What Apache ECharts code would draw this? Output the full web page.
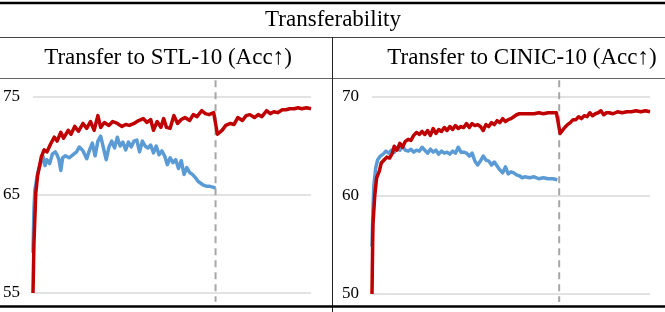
<!DOCTYPE html>
<html>
<head>
<meta charset="utf-8">
<script src="https://cdn.jsdelivr.net/npm/echarts@6/dist/echarts.min.js"></script>
<style>html,body{margin:0;padding:0;background:#fff;}#c{width:665px;height:312px;}</style>
</head>
<body>
<div id="c"></div>
<script>
// ---- Data ----
const mainTitle = 'Transferability';
const panelTitles = ['Transfer to STL-10 (Acc\u2191)', 'Transfer to CINIC-10 (Acc\u2191)'];
const leftTicks = [55, 65, 75];
const rightTicks = [50, 60, 70];
const switchEpochLeft = 197;
const switchEpochRight = 202;

// Left panel (STL-10), red series
const stlRedEpoch = [0,1,3,5,9,12,15,19,23,26,30,33,38,41,45,49,54,58,62,66,70,73,77,82,86,91,96,100,104,109,114,119,123,127,130,134,138,141,144,148,152,156,160,164,169,173,177,182,186,190,195,197,199,201,204,208,213,217,221,226,230,234,239,243,247,252,256,260,264,269,273,277,282,286,290,295,300];
const stlRedAcc = [55.0,60.0,65.2,67.0,68.9,69.6,69.4,70.2,70.9,70.5,71.4,70.8,71.6,71.2,72.0,71.5,72.3,71.8,72.5,71.6,73.1,71.9,72.4,72.1,72.5,72.3,72.0,72.2,72.1,72.3,72.6,72.8,72.4,72.7,71.6,72.5,71.9,72.8,71.9,71.8,73.1,72.3,72.7,72.9,72.6,73.2,73.0,73.6,73.3,73.2,73.4,73.2,71.2,71.1,71.6,72.1,72.3,72.2,72.9,72.6,73.1,73.2,72.9,73.2,73.0,73.6,73.3,73.5,73.4,73.7,73.7,73.8,73.8,73.9,73.8,73.9,73.8];
// Left panel (STL-10), blue series
const stlBlueEpoch = [0,1,2,5,9,11,13,15,18,21,24,26,28,30,32,35,39,43,47,50,54,58,61,64,67,70,73,76,79,82,85,88,91,94,97,100,103,106,109,112,115,118,121,124,127,130,133,136,139,142,145,148,151,154,157,160,163,166,169,172,175,178,181,184,187,190,194,197];
const stlBlueAcc = [59.1,63.5,65.5,67.2,68.5,68.9,68.0,68.6,68.2,69.2,69.4,69.1,68.6,67.5,68.8,69.0,68.8,69.1,69.4,69.9,69.5,68.7,69.6,70.3,69.0,70.5,71.0,69.8,68.6,69.9,70.5,69.8,70.9,70.0,70.4,69.6,70.4,69.9,70.5,70.6,69.4,70.5,70.0,69.8,70.1,69.3,70.0,69.1,69.5,69.0,68.1,68.8,68.3,68.6,67.7,68.5,67.1,67.8,67.3,67.1,66.8,66.4,66.2,66.0,65.9,65.9,65.8,65.7];

// Right panel (CINIC-10), red series
const cinicRedEpoch = [0,1,3,5,8,10,13,16,19,22,24,27,30,33,36,39,42,45,48,51,54,57,60,63,66,69,72,75,78,81,84,87,90,93,96,99,102,105,108,111,114,117,120,123,126,129,132,135,138,141,144,147,150,153,156,159,162,165,170,175,180,185,190,195,199,201,203,205,208,211,214,217,220,223,226,229,232,235,238,241,244,247,250,253,256,260,265,270,275,280,285,290,295,300];
const cinicRedAcc = [50.0,57.0,60.0,61.8,62.5,63.3,63.6,63.9,63.8,64.3,65.0,64.6,65.3,64.9,65.5,65.7,65.6,66.1,66.4,66.2,66.5,66.2,66.6,66.1,66.8,66.3,66.7,66.5,66.9,66.6,67.0,66.7,67.1,66.8,67.0,66.9,67.3,66.9,67.3,67.1,67.2,67.0,66.6,67.2,67.0,67.4,67.2,67.6,67.4,67.8,67.5,67.7,67.8,68.0,68.2,68.3,68.3,68.3,68.3,68.3,68.4,68.3,68.4,68.4,68.4,68.5,66.3,66.5,66.9,67.2,67.4,67.7,67.7,68.0,67.8,68.1,68.0,68.4,68.1,68.3,68.4,68.6,68.2,68.4,68.4,68.3,68.5,68.4,68.5,68.5,68.6,68.5,68.6,68.5];
// Right panel (CINIC-10), blue series
const cinicBlueEpoch = [0,1,2,4,6,9,12,15,18,21,24,27,30,33,36,39,42,45,48,51,54,57,60,63,66,69,72,75,78,81,84,87,90,93,96,99,102,105,108,111,114,117,120,123,126,129,132,135,138,141,144,147,150,153,156,159,162,165,170,175,180,185,190,195,200];
const cinicBlueAcc = [54.8,58.5,61.0,62.8,63.6,64.0,64.2,64.5,64.3,64.6,64.4,64.8,64.6,65.0,64.6,64.5,64.7,64.4,64.6,64.5,64.9,64.6,64.3,64.7,64.4,64.6,64.2,64.5,64.3,64.4,64.2,64.5,64.3,64.9,64.4,64.4,64.3,64.0,64.3,63.5,63.1,63.5,64.0,63.6,63.5,63.1,63.4,63.0,62.6,62.3,62.9,62.2,62.4,62.3,62.1,62.0,61.8,61.9,61.8,61.9,61.7,61.8,61.7,61.7,61.6];

// ---- Chart ----
const zip = (xs, ys) => xs.map((x, i) => [x, ys[i]]);
const RED = '#C00000', BLUE = '#5B9BD5', DASH = '#A6A6A6';
const FONT = '"Liberation Serif", "Times New Roman", serif';

function yAxis(idx, ticks) {
  return {
    gridIndex: idx, type: 'value',
    min: ticks[0], max: ticks[ticks.length - 1], interval: ticks[1] - ticks[0],
    axisLine: { show: false }, axisTick: { show: false },
    axisLabel: { fontSize: 17, fontFamily: FONT, color: '#000', margin: 13 },
    splitLine: { lineStyle: { color: '#D9D9D9', width: 1.5 } }
  };
}
function xAxis(idx) {
  return { gridIndex: idx, type: 'value', min: 0, max: 300, show: false };
}
function lineSeries(idx, data, color, z) {
  return {
    type: 'line', xAxisIndex: idx, yAxisIndex: idx, data: data,
    showSymbol: false, symbol: 'none', z: z, animation: false,
    lineStyle: { color: color, width: 3.5, join: 'round' }
  };
}
function dashSeries(idx, ep, lo, hi) {
  return {
    type: 'line', xAxisIndex: idx, yAxisIndex: idx, data: [[ep, hi], [ep, lo]],
    showSymbol: false, symbol: 'none', z: 1, clip: false, animation: false,
    lineStyle: { color: DASH, width: 2, type: [7, 5] }
  };
}

const chart = echarts.init(document.getElementById('c'), null, { renderer: 'canvas' });
chart.setOption({
  animation: false,
  backgroundColor: '#fff',
  grid: [
    { left: 32, top: 97, width: 279, height: 196 },
    { left: 372, top: 97, width: 278, height: 197 }
  ],
  xAxis: [xAxis(0), xAxis(1)],
  yAxis: [yAxis(0, leftTicks), yAxis(1, rightTicks)],
  series: [
    dashSeries(0, switchEpochLeft, 54.1, 76.7),
    dashSeries(1, switchEpochRight, 49.2, 71.7),
    lineSeries(0, zip(stlBlueEpoch, stlBlueAcc), BLUE, 2),
    lineSeries(0, zip(stlRedEpoch, stlRedAcc), RED, 3),
    lineSeries(1, zip(cinicBlueEpoch, cinicBlueAcc), BLUE, 2),
    lineSeries(1, zip(cinicRedEpoch, cinicRedAcc), RED, 3)
  ],
  graphic: [
    { type: 'line', shape: { x1: 0, y1: 3, x2: 665, y2: 3 }, style: { stroke: '#000', lineWidth: 2.5 } },
    { type: 'line', shape: { x1: 0, y1: 37.5, x2: 665, y2: 37.5 }, style: { stroke: '#444', lineWidth: 1 } },
    { type: 'line', shape: { x1: 0, y1: 78.5, x2: 665, y2: 78.5 }, style: { stroke: '#666', lineWidth: 1 } },
    { type: 'line', shape: { x1: 332.5, y1: 37, x2: 332.5, y2: 312 }, style: { stroke: '#222', lineWidth: 1 } },
    { type: 'line', shape: { x1: 0, y1: 306.5, x2: 665, y2: 306.5 }, style: { stroke: '#000', lineWidth: 2.5 } },
    { type: 'text', style: { text: mainTitle, x: 333, y: 20, align: 'center', verticalAlign: 'middle', font: '23px ' + FONT, fill: '#000' } },
    { type: 'text', style: { text: panelTitles[0], x: 168, y: 58, align: 'center', verticalAlign: 'middle', font: '23px ' + FONT, fill: '#000' } },
    { type: 'text', style: { text: panelTitles[1], x: 522, y: 58, align: 'center', verticalAlign: 'middle', font: '23px ' + FONT, fill: '#000' } }
  ]
});
</script>
</body>
</html>
